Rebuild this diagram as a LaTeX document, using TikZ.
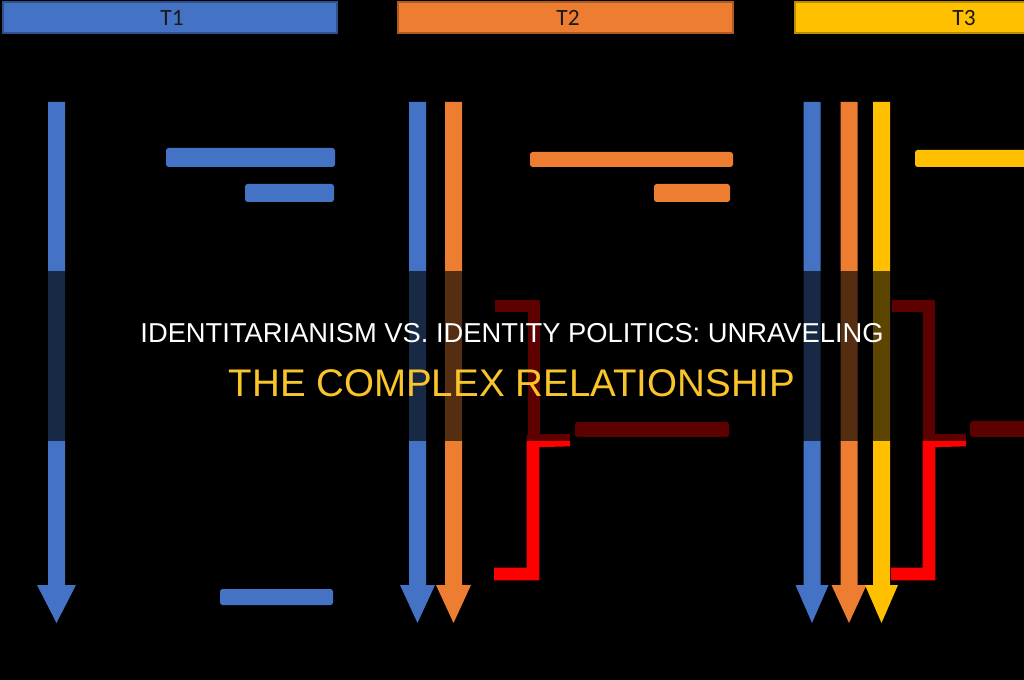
\documentclass[tikz,border=0pt]{standalone}
\usepackage{fontspec}
\setmainfont{Liberation Sans}
\newfontfamily\calib{Carlito}
\definecolor{oblue}{HTML}{4472C4}
\definecolor{oorange}{HTML}{ED7D31}
\definecolor{oyellow}{HTML}{FFC000}
\definecolor{oblueline}{HTML}{2F528F}
\definecolor{oorangeline}{HTML}{AE5A21}
\definecolor{oyellowline}{HTML}{BC8C00}
\definecolor{titleyellow}{HTML}{F9C52A}
\definecolor{hdrtext}{HTML}{1A1A1A}
\newcommand\DownArr[4]{% name, centre x, half head width, colour
  \coordinate (#1-top) at (#2,102);
  \coordinate (#1-tip) at (#2,623);
  \fill[#4] ({#2-8.5},102) -- ({#2+8.5},102) -- ({#2+8.5},585) -- ({#2+#3},585)
    -- (#1-tip) -- ({#2-#3},585) -- ({#2-8.5},585) -- cycle;}
\tikzset{
  hdrbar/.style={line width=1.2pt},
  hdrlabel/.style={font=\calib\fontsize{17.5}{20}\selectfont, text=hdrtext, inner sep=0pt},
  blurlabel/.style={rounded corners=2pt},
  bracket/.style={draw=red, line width=9.5pt, line join=miter},
}
\begin{document}
\begin{tikzpicture}[x=0.75pt,y=-0.75pt]
\useasboundingbox (0,0) rectangle (1024,680);
\fill[black] (0,0) rectangle (1024,680);
\begin{scope}
\clip (0,0) rectangle (1024,680);
% header bars
\draw[hdrbar, fill=oblue, draw=oblueline] (3,2) rectangle (337,33);
\node[hdrlabel] (t1) at (172,18) {T1};
\draw[hdrbar, fill=oorange, draw=oorangeline] (398,2) rectangle (733,33);
\node[hdrlabel] (t2) at (568,18) {T2};
\draw[hdrbar, fill=oyellow, draw=oyellowline] (795,2) rectangle (1133,33);
\node[hdrlabel] (t3) at (964,18) {T3};
% arrows
\DownArr{a1}{56.5}{19.5}{oblue}
\DownArr{b1}{417.5}{17.5}{oblue}
\DownArr{b2}{453.5}{17.5}{oorange}
\DownArr{c1}{812}{16.5}{oblue}
\DownArr{c2}{849}{17.5}{oorange}
\DownArr{c3}{881.5}{16.5}{oyellow}
% brackets
\coordinate (brA-top) at (495,306);
\coordinate (brA-mid) at (570,440);
\coordinate (brA-bot) at (494,574);
\draw[bracket] (brA-top) -- (534,306) -- (534,440) -- (brA-mid);
\draw[bracket] (brA-mid) -- (533,441) -- (533,574) -- (brA-bot);
\coordinate (brB-top) at (892,306);
\coordinate (brB-mid) at (966,440);
\coordinate (brB-bot) at (891,574);
\draw[bracket] (brB-top) -- (929,306) -- (929,440) -- (brB-mid);
\draw[bracket] (brB-mid) -- (929,441) -- (929,574) -- (brB-bot);
% blurred (illegible) labels
\fill[blurlabel, oblue] (166,148) rectangle (335,167);
\fill[blurlabel, oblue] (245,184) rectangle (334,202);
\fill[blurlabel, oblue] (220,589) rectangle (333,605);
\fill[blurlabel, oorange] (530,152) rectangle (733,167);
\fill[blurlabel, oorange] (654,184) rectangle (730,202);
\fill[blurlabel, oyellow] (915,150) rectangle (1030,167);
\fill[blurlabel, red] (575,422) rectangle (729,437);
\fill[blurlabel, red] (970,421) rectangle (1030,437);
% dark band
\fill[black, opacity=0.64] (0,271) rectangle (1024,441);
\end{scope}
% title
\node[anchor=base, text=white, inner sep=0pt, font=\fontsize{20.5}{24}\selectfont] (title1) at (512,343)
  {IDENTITARIANISM VS. IDENTITY POLITICS: UNRAVELING};
\node[anchor=base, text=titleyellow, inner sep=0pt, font=\fontsize{28.9}{34}\selectfont] (title2) at (512,397)
  {THE COMPLEX RELATIONSHIP};
\end{tikzpicture}
\end{document}
